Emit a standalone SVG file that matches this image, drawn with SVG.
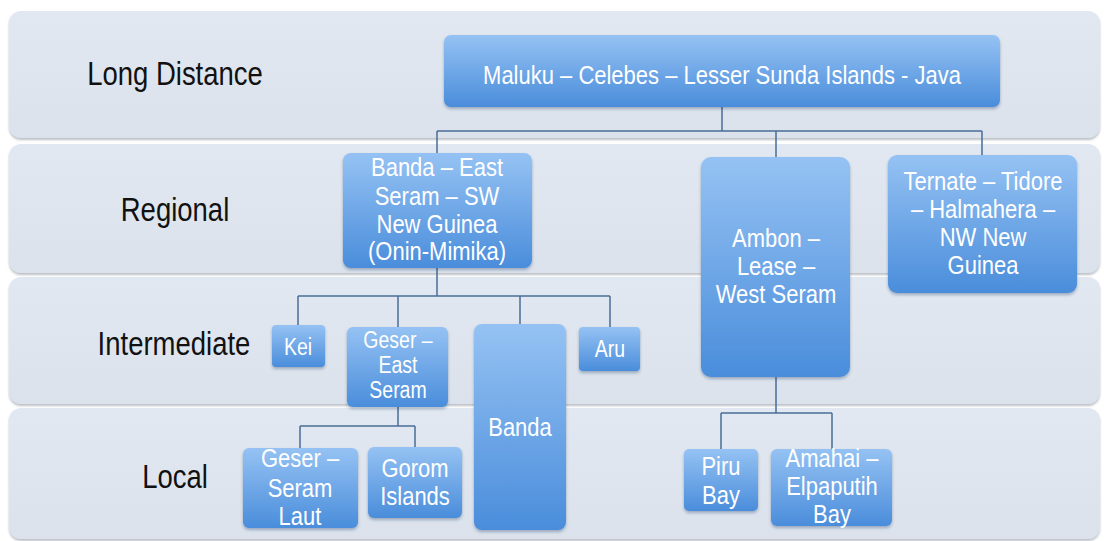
<svg xmlns="http://www.w3.org/2000/svg" width="1104" height="541" viewBox="0 0 1104 541">
<defs>
<linearGradient id="nodeGrad" x1="0" y1="0" x2="0" y2="1">
<stop offset="0" stop-color="#95c2f3"/>
<stop offset="1" stop-color="#4a8ddb"/>
</linearGradient>
<linearGradient id="bandGrad" x1="0" y1="0" x2="0" y2="1">
<stop offset="0" stop-color="#e2e8f1"/>
<stop offset="1" stop-color="#dbe2ec"/>
</linearGradient>
<filter id="shadow" x="-10%" y="-10%" width="120%" height="130%">
<feDropShadow dx="0" dy="2" stdDeviation="1.5" flood-color="#1c3c66" flood-opacity="0.35"/>
</filter>
<filter id="bandShadow" x="-5%" y="-10%" width="110%" height="130%">
<feDropShadow dx="0" dy="2" stdDeviation="1.2" flood-color="#6b7380" flood-opacity="0.45"/>
</filter>
</defs>
<style>
.band{fill:url(#bandGrad);filter:url(#bandShadow);}
.node{fill:url(#nodeGrad);filter:url(#shadow);}
.lbl{font-family:"Liberation Sans",Arial,sans-serif;font-size:27.5px;fill:#111;text-anchor:middle;}
.t{font-family:"Liberation Sans",Arial,sans-serif;font-size:22px;fill:#fff;text-anchor:middle;}
.s{font-family:"Liberation Sans",Arial,sans-serif;font-size:19.5px;fill:#fff;text-anchor:middle;}
.conn{fill:none;stroke:#4a6d96;stroke-width:1.5;}
</style>
<rect width="1104" height="541" fill="#ffffff"/>

<g id="bands">
<rect class="band" x="9" y="11" width="1091" height="127" rx="12"/>
<rect class="band" x="9" y="144" width="1091" height="129" rx="12"/>
<rect class="band" x="9" y="277" width="1091" height="127" rx="12"/>
<rect class="band" x="9" y="408" width="1091" height="131" rx="12"/>
</g>

<g id="level-labels">
<text class="lbl" transform="translate(175,85) scale(1,1.18)">Long Distance</text>
<text class="lbl" transform="translate(175,221) scale(1,1.18)">Regional</text>
<text class="lbl" transform="translate(174,355) scale(1,1.18)">Intermediate</text>
<text class="lbl" transform="translate(175,488) scale(1,1.18)">Local</text>
</g>

<g id="connectors">
<path class="conn" d="M722,107 V131 M437,131 H982 M437,131 V153 M776,131 V157 M982,131 V155"/>
<path class="conn" d="M437,268 V296 M298,296 H610 M298,296 V325 M398,296 V327 M520,296 V324 M610,296 V327"/>
<path class="conn" d="M398,407 V426 M300,426 H415 M300,426 V448 M415,426 V447"/>
<path class="conn" d="M776,377 V413 M721,413 H832 M721,413 V449 M832,413 V449"/>
</g>

<g id="node-maluku">
<rect class="node" x="444" y="35" width="556" height="72" rx="7"/>
<text class="t" transform="translate(722,84) scale(1,1.18)">Maluku – Celebes – Lesser Sunda Islands - Java</text>
</g>

<g id="node-banda-east-seram">
<rect class="node" x="343" y="153" width="189" height="115" rx="8"/>
<text class="t" transform="translate(437,176) scale(1,1.18)">Banda – East</text>
<text class="t" transform="translate(437,205) scale(1,1.18)">Seram – SW</text>
<text class="t" transform="translate(437,233) scale(1,1.18)">New Guinea</text>
<text class="t" transform="translate(437,260) scale(1,1.18)">(Onin-Mimika)</text>
</g>

<g id="node-ambon">
<rect class="node" x="701" y="157" width="149" height="220" rx="10"/>
<text class="t" transform="translate(776,247) scale(1,1.18)">Ambon –</text>
<text class="t" transform="translate(776,275) scale(1,1.18)">Lease –</text>
<text class="t" transform="translate(776,303) scale(1,1.18)">West Seram</text>
</g>

<g id="node-ternate">
<rect class="node" x="888" y="155" width="189" height="138" rx="9"/>
<text class="t" transform="translate(983,190) scale(1,1.18)">Ternate – Tidore</text>
<text class="t" transform="translate(983,218) scale(1,1.18)">– Halmahera –</text>
<text class="t" transform="translate(983,246) scale(1,1.18)">NW New</text>
<text class="t" transform="translate(983,274) scale(1,1.18)">Guinea</text>
</g>

<g id="node-kei">
<rect class="node" x="272" y="325" width="53" height="42" rx="4"/>
<text class="s" transform="translate(298,355) scale(1,1.18)">Kei</text>
</g>

<g id="node-geser-east-seram">
<rect class="node" x="347" y="327" width="101" height="80" rx="6"/>
<text class="s" transform="translate(398,348) scale(1,1.18)">Geser –</text>
<text class="s" transform="translate(398,373) scale(1,1.18)">East</text>
<text class="s" transform="translate(398,398) scale(1,1.18)">Seram</text>
</g>

<g id="node-banda">
<rect class="node" x="474" y="324" width="92" height="206" rx="8"/>
<text class="t" transform="translate(520,436) scale(1,1.18)">Banda</text>
</g>

<g id="node-aru">
<rect class="node" x="579" y="327" width="61" height="44" rx="4"/>
<text class="s" transform="translate(610,357) scale(1,1.18)">Aru</text>
</g>

<g id="node-geser-seram-laut">
<rect class="node" x="243" y="448" width="115" height="80" rx="6"/>
<text class="t" transform="translate(300,467) scale(1,1.18)">Geser –</text>
<text class="t" transform="translate(300,497) scale(1,1.18)">Seram</text>
<text class="t" transform="translate(300,525) scale(1,1.18)">Laut</text>
</g>

<g id="node-gorom">
<rect class="node" x="368" y="447" width="94" height="71" rx="6"/>
<text class="t" transform="translate(415,477) scale(1,1.18)">Gorom</text>
<text class="t" transform="translate(415,505) scale(1,1.18)">Islands</text>
</g>

<g id="node-piru">
<rect class="node" x="684" y="449" width="74" height="62" rx="5"/>
<text class="t" transform="translate(721,475) scale(1,1.18)">Piru</text>
<text class="t" transform="translate(721,504) scale(1,1.18)">Bay</text>
</g>

<g id="node-amahai">
<rect class="node" x="771" y="449" width="121" height="77" rx="6"/>
<text class="t" transform="translate(832,467) scale(1,1.18)">Amahai –</text>
<text class="t" transform="translate(832,495) scale(1,1.18)">Elpaputih</text>
<text class="t" transform="translate(832,523) scale(1,1.18)">Bay</text>
</g>
</svg>
